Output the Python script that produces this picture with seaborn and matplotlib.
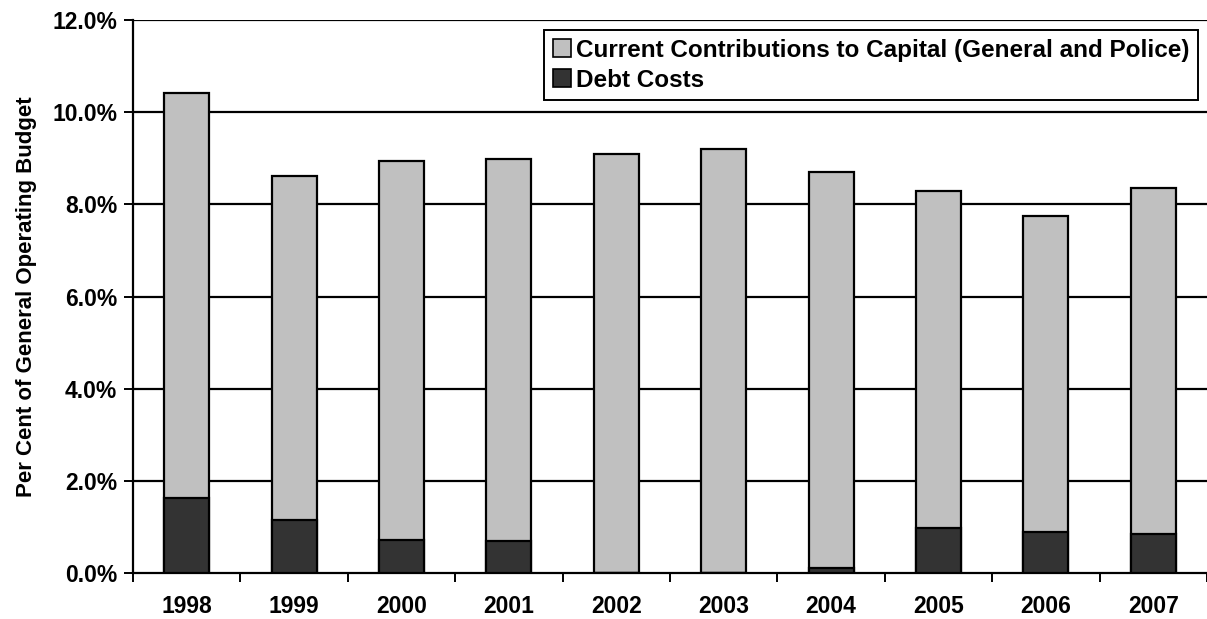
import matplotlib
matplotlib.use("Agg")
import matplotlib.pyplot as plt
import seaborn as sns
import pandas as pd
import numpy as np
from matplotlib.patches import Patch
from matplotlib.ticker import FixedLocator, FuncFormatter

years = ["1998", "1999", "2000", "2001", "2002", "2003", "2004", "2005", "2006", "2007"]
debt_costs = [1.62, 1.16, 0.72, 0.70, 0.0, 0.0, 0.11, 0.97, 0.90, 0.85]
contributions = [8.79, 7.46, 8.21, 8.28, 9.10, 9.21, 8.59, 7.31, 6.85, 7.50]
series_names = ["Current Contributions to Capital (General and Police)", "Debt Costs"]
y_ticks = [0, 2, 4, 6, 8, 10, 12]

sns.set_theme(style="white")
plt.rcParams["font.family"] = ["Liberation Sans", "DejaVu Sans"]
plt.rcParams["font.weight"] = "bold"
for k in ["text.color", "axes.labelcolor", "xtick.color", "ytick.color"]:
    plt.rcParams[k] = "black"

df = pd.DataFrame({"year": years, "debt": debt_costs, "contrib": contributions})
df["total"] = df["debt"] + df["contrib"]

fig = plt.figure(figsize=(12.07, 6.19), dpi=100)
ax = fig.add_axes([133 / 1207, 46 / 619, 1 - 133 / 1207, (573 - 20) / 619])

light = "#c0c0c0"
dark = "#333333"
bw = 0.42
for yv in y_ticks[1:]:
    ax.axhline(yv, color="black", lw=1.6, zorder=0)

sns.barplot(data=df, x="year", y="total", color=light, saturation=1, width=bw,
            edgecolor="black", linewidth=1.6, ax=ax, zorder=2)
sns.barplot(data=df, x="year", y="debt", color=dark, saturation=1, width=bw,
            edgecolor="black", linewidth=1.6, ax=ax, zorder=3)

ax.set_xlim(-0.5, len(years) - 0.5)
ax.set_ylim(0, 12)
ax.set_yticks(y_ticks)
ax.yaxis.set_major_formatter(FuncFormatter(lambda v, p: f"{v:.1f}%"))
ax.set_xlabel("")
ax.set_ylabel("Per Cent of General Operating Budget", fontsize=16, fontweight="bold", labelpad=11)

for s in ["top", "right"]:
    ax.spines[s].set_visible(False)
for s in ["left", "bottom"]:
    ax.spines[s].set_color("black")
    ax.spines[s].set_linewidth(1.6)

ax.tick_params(axis="y", which="major", direction="out", length=6.5, width=1.4, color="black",
               labelsize=16.5, pad=5, left=True)
ax.tick_params(axis="x", which="major", length=0, labelsize=16.5, pad=16)
ax.xaxis.set_minor_locator(FixedLocator(np.arange(-0.5, len(years), 1.0)))
ax.tick_params(axis="x", which="minor", direction="out", length=6.5, width=1.4, color="black", bottom=True)
for lab in ax.get_xticklabels() + ax.get_yticklabels():
    lab.set_fontweight("bold")

handles = [Patch(facecolor=light, edgecolor="black", linewidth=1.2, label=series_names[0]),
           Patch(facecolor=dark, edgecolor="black", linewidth=1.2, label=series_names[1])]
leg = ax.legend(handles=handles, loc="upper right",
                bbox_to_anchor=((1198 - 133) / (1207 - 133), 1 - 10 / 553),
                frameon=True, fancybox=False, framealpha=1, edgecolor="black",
                prop={"size": 17.5, "weight": "bold"}, handlelength=0.75, handleheight=0.75,
                handletextpad=0.2, borderpad=0.35, labelspacing=0.3, borderaxespad=0)
leg.get_frame().set_linewidth(1.4)

fig.savefig("out.png", dpi=100, facecolor="white")
